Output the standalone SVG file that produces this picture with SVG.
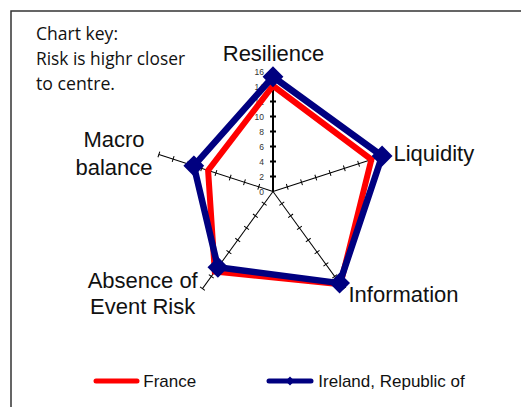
<svg xmlns="http://www.w3.org/2000/svg" xmlns:xlink="http://www.w3.org/1999/xlink" width="521" height="407" viewBox="0 0 521 407">
<style>
.frame{fill:#fff;stroke:#333;stroke-width:1.5}
.key{font-family:"Open Sans","Noto Sans","Liberation Sans",sans-serif;font-size:18px;fill:#111}
.cat{font-family:"Liberation Sans",Arial,sans-serif;font-size:22px;fill:#111}
.tick{font-family:"Liberation Sans",Arial,sans-serif;font-size:8.5px;fill:#333;text-anchor:end}
.leg{font-family:"Liberation Sans",Arial,sans-serif;font-size:17px;fill:#111}
.fr{fill:none;stroke:#ff0000;stroke-width:6;stroke-linejoin:miter}
.ie{fill:none;stroke:#000080;stroke-width:6.5;stroke-linejoin:round}
.mk{fill:#000080;stroke:#000080;stroke-width:2}
</style>
<defs>
<g id="axis" fill="none">
<path d="M273,191.5V71.5"/>
<path d="M270,176.5h6M270,161.5h6M270,146.5h6M270,131.5h6M270,116.5h6M270,101.5h6M270,86.5h6M270,71.5h6"/>
</g>
<path id="dm" d="M0,-9L9,0L0,9L-9,0Z"/>
</defs>
<rect class="frame" x="11" y="11" width="520" height="410"/>
<g id="chart-key">
<text class="key" x="36" y="40" textLength="82" lengthAdjust="spacingAndGlyphs">Chart key:</text>
<text class="key" x="36" y="65" textLength="149" lengthAdjust="spacingAndGlyphs">Risk is highr closer</text>
<text class="key" x="36" y="90" textLength="79" lengthAdjust="spacingAndGlyphs">to centre.</text>
</g>
<g id="axes">
<use xlink:href="#axis" stroke="#000" stroke-width="2"/>
<use xlink:href="#axis" stroke="#000" stroke-width="1" transform="rotate(72 273 191.5)"/>
<use xlink:href="#axis" stroke="#000" stroke-width="1" transform="rotate(144 273 191.5)"/>
<use xlink:href="#axis" stroke="#000" stroke-width="1" transform="rotate(216 273 191.5)"/>
<use xlink:href="#axis" stroke="#000" stroke-width="1" transform="rotate(288 273 191.5)"/>
</g>
<g id="scale">
<text class="tick" x="264" y="194.5">0</text>
<text class="tick" x="264" y="179.5">2</text>
<text class="tick" x="264" y="164.5">4</text>
<text class="tick" x="264" y="149.5">6</text>
<text class="tick" x="264" y="134.5">8</text>
<text class="tick" x="264" y="119.5">10</text>
<text class="tick" x="264" y="104.5">12</text>
<text class="tick" x="264" y="89.5">14</text>
<text class="tick" x="264" y="74.5">16</text>
</g>
<g id="series-france">
<polygon class="fr" points="273,85.75 371.4,159.5 340.4,284.3 214.8,271.6 208.1,170.4"/>
</g>
<g id="series-ireland">
<polygon class="ie" points="273,76.75 382.1,156 339.6,283.1 217.9,267.3 193.8,165.8"/>
<use xlink:href="#dm" class="mk" transform="translate(273,76.75)"/>
<use xlink:href="#dm" class="mk" transform="translate(382.1,156)"/>
<use xlink:href="#dm" class="mk" transform="translate(339.6,283.1)"/>
<use xlink:href="#dm" class="mk" transform="translate(217.9,267.3)"/>
<use xlink:href="#dm" class="mk" transform="translate(193.8,165.8)"/>
</g>
<g id="labels">
<text class="cat" x="273.5" y="60.5" text-anchor="middle">Resilience</text>
<text class="cat" x="393.5" y="161">Liquidity</text>
<text class="cat" x="348.5" y="301.5">Information</text>
<text class="cat" x="142.7" y="287.7" text-anchor="middle">Absence of</text>
<text class="cat" x="142.7" y="314" text-anchor="middle">Event Risk</text>
<text class="cat" x="114" y="147.3" text-anchor="middle">Macro</text>
<text class="cat" x="114" y="175" text-anchor="middle">balance</text>
</g>
<g id="legend">
<line x1="96" y1="381" x2="137" y2="381" stroke="#ff0000" stroke-width="5" stroke-linecap="round"/>
<text class="leg" x="143.3" y="386.7">France</text>
<line x1="269" y1="381" x2="311" y2="381" stroke="#000080" stroke-width="5" stroke-linecap="round"/>
<path d="M290,376.5L294.5,381L290,385.5L285.5,381Z" fill="#000080"/>
<text class="leg" x="318.3" y="386.7">Ireland, Republic of</text>
</g>
</svg>
